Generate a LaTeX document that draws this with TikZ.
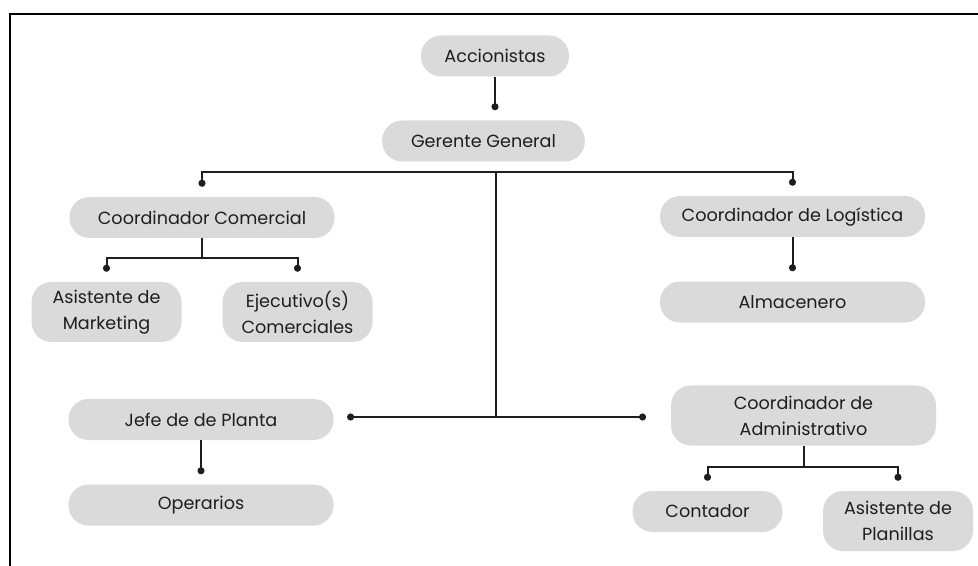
\documentclass[tikz,border=0pt]{standalone}
\usepackage{fontspec}
\setmainfont{Poppins}
\usetikzlibrary{arrows.meta,positioning}
\definecolor{boxgray}{RGB}{218,218,218}
\definecolor{inkgray}{RGB}{30,30,30}
\tikzset{
    %Define style for boxes
    role/.style={
           rectangle,
           rounded corners=15pt,
           fill=boxgray,
           text=inkgray,
           inner sep=0pt,
           minimum height=30.75pt,
           align=center,
           font=\fontsize{13.2}{19.5}\selectfont},
    wide/.style={role, minimum width=198.75pt},
    narrow/.style={role, minimum width=112.5pt},
    tall/.style={minimum height=45pt},
    % Define connector styles
    link/.style={
           draw=inkgray,
           line width=1.5pt},
    pin/.style={
           link,
           -{Circle[length=5.25pt]},
           shorten >=7.5pt}
}
\begin{document}
\begin{tikzpicture}[x=0.75pt,y=-0.75pt,node distance=33pt]
\useasboundingbox (0,0) rectangle (978,566);
% frame
\draw[line width=1.5pt] (10,570) -- (10,14) -- (982,14);
 %nodes
\node[narrow, minimum width=111pt](acc) at (495,56){Accionistas};
\node[role, minimum width=152pt](ger) at (483.5,141){Gerente General};
\node[wide](com) at (202,217.5){Coordinador Comercial};
\node[wide](log) at (792.5,216.5){Coordinador de Logística};
\node[wide, below=of log](alm){Almacenero};
\node[narrow, tall](mkt) at (106.5,312){Asistente de\\Marketing};
\node[narrow, tall](eje) at (297.5,312){Ejecutivo(s)\\Comerciales};
\node[wide](jefe) at (201,419.5){Jefe de de Planta};
\node[wide, below=of jefe](ope){Operarios};
\node[wide, tall](adm) at (803.5,415.5){Coordinador de\\Administrativo};
\node[narrow](cont) at (707.5,511.5){Contador};
\node[narrow, tall](plan) at (898,521){Asistente de\\Planillas};
\coordinate (bus) at (496,172);
\coordinate (hub) at (496,417);
 %connectors
\draw[pin] (acc.south) -- (acc.south |- ger.north);
\draw[pin] (bus) -| (com.north);
\draw[pin] (bus) -| (log.north);
\draw[link, line width=1.8pt] (bus) -- (hub);
\draw[pin, shorten >=10pt] (hub) -- (hub -| jefe.east);
\draw[pin, shorten >=18.5pt] (hub) -- (hub -| adm.west);
\draw[link] (com.south) -- ++(0,20) coordinate (cs);
\draw[pin] (cs) -| (mkt.north);
\draw[pin] (cs) -| (eje.north);
\draw[pin] (log) -- (alm);
\draw[pin] (jefe) -- (ope);
\draw[link] (adm.south) -- ++(0,21) coordinate (as);
\draw[pin] (as) -| (cont.north);
\draw[pin] (as) -| (plan.north);
\end{tikzpicture}
\end{document}
